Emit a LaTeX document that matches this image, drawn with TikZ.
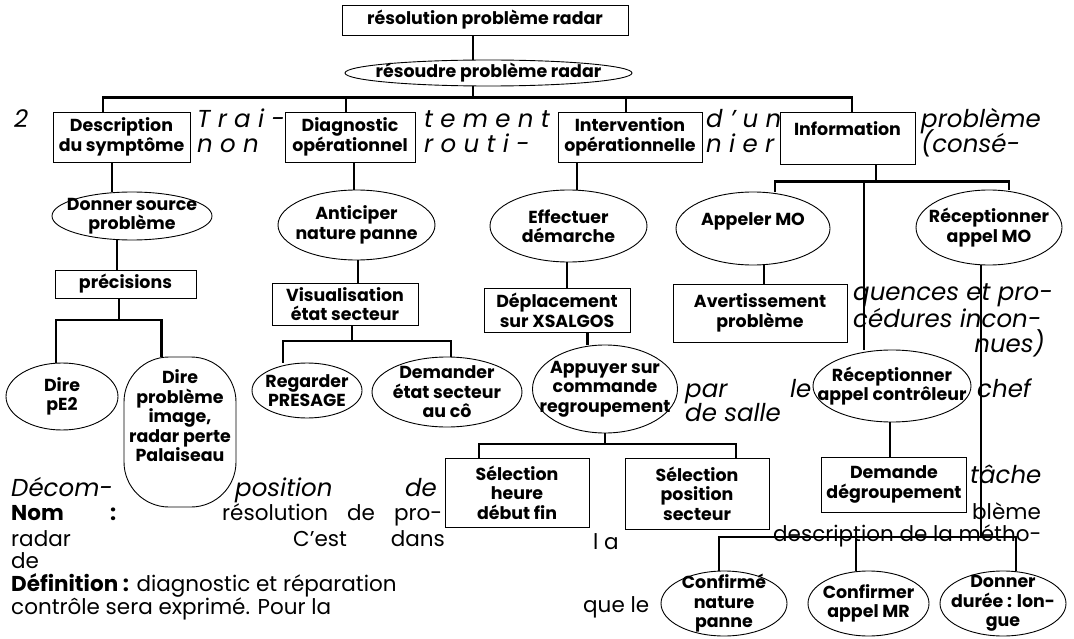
\documentclass[tikz,border=0pt]{standalone}
\usepackage{fontspec}
\setmainfont{Poppins}
\usetikzlibrary{shapes.geometric}

\newcommand\boxtxt{\bfseries\fontsize{17.4}{19.5}\selectfont}
\newcommand\headtxt{\itshape\fontsize{24.5}{28}\selectfont}
\newcommand\bodytxt{\fontsize{21.5}{24}\selectfont}

\tikzset{
	box/.style={draw, line width=0.9pt, rectangle, inner sep=0pt, align=center, font=\boxtxt},
	oval/.style={draw, line width=0.9pt, ellipse, inner sep=0pt, label={[lbl]center:{#1}}},
	lbl/.style={align=center, font=\boxtxt, inner sep=0pt},
	dims/.style 2 args={minimum width=#1, minimum height=#2},
	conn/.style={line width=2.5pt},
	head/.style={anchor=base west, inner sep=0pt, font=\headtxt},
	body/.style={anchor=base west, inner sep=0pt, font=\bodytxt}
}

\begin{document}
\begin{tikzpicture}[x=1pt, y=-1pt]
	\useasboundingbox (0,0) rectangle (1074,639);

	% text of the page behind the tree
	\node[head] (t1) at (14,128) {2};
	\node[head] (t2) at (197,128) {T r a i -};
	\node[head] (t3) at (424,128) {t e m e n t};
	\node[head] (t4) at (706,128) {d ’ u n};
	\node[head] (t5) at (921,128) {problème};
	\node[head] (t6) at (197,153) {n o n};
	\node[head] (t7) at (424,153) {r o u t i -};
	\node[head] (t8) at (706,153) {n i e r};
	\node[head] (t9) at (921,153) {(consé-};
	\node[head] (t10) at (853,301) {quences et pro-};
	\node[head] (t11) at (853,327) {cédures incon-};
	\node[head, anchor=base east] (t12) at (1045,352) {nues)};
	\node[head] (t13) at (685,397) {par};
	\node[head] (t14) at (790,397) {le};
	\node[head] (t15) at (977,397) {chef};
	\node[head] (t16) at (685,421) {de salle};
	\node[head] (t17) at (11,496) {Décom-};
	\node[head] (t18) at (235,496) {position};
	\node[head, anchor=base east] (t19) at (437,496) {de};
	\node[head] (t20) at (970,483) {tâche};
	\node[body] (t21) at (11,520) {\bfseries Nom};
	\node[body] (t22) at (110,520) {\bfseries :};
	\node[body] (t23) at (222,520) {\makebox[220pt][s]{résolution de pro-}};
	\node[body] (t25) at (972,519) {blème};
	\node[body] (t26) at (11,546) {radar};
	\node[body] (t27) at (293,546) {C’est};
	\node[body, anchor=base east] (t28) at (445,546) {dans};
	\node[body] (t29) at (593,549) {l a};
	\node[body] (t30) at (773,541) {description de la métho-};
	\node[body] (t31) at (11,568) {de};
	\node[body] (t32) at (11,591) {\textbf{Définition :} diagnostic et réparation};
	\node[body] (t33) at (11,614) {contrôle sera exprimé. Pour la};
	\node[body] (t34) at (583,612) {que le};

	% tree
	\node[box, dims={286}{30}] (top) at (485,20) {résolution problème radar};
	\node[oval={résoudre problème radar}, dims={287}{26}] (res) at (488.5,73) {};

	\node[box, dims={137}{50}] (desc) at (121.5,137) {Description\\du symptôme};
	\node[box, dims={130}{50}] (diag) at (350,137) {Diagnostic\\opérationnel};
	\node[box, dims={144}{50}] (interv) at (630,137) {Intervention\\opérationnelle};
	\node[box, dims={135}{52}] (info) at (847.5,138) {Information\\~};

	\node[oval={Donner source\\problème}, dims={160}{48}] (src) at (132,216) {};
	\node[box, dims={141}{28}] (prec) at (125.5,284) {précisions};
	\node[oval={Dire\\pE2}, dims={112}{67}] (dire1) at (62,396.5) {};
	\node[draw, line width=0.9pt, rounded corners=45pt, dims={112}{150},
		label={[lbl, anchor=north, yshift=-13pt]north:{Dire\\problème\\image,\\radar perte\\Palaiseau}}] (dire2) at (180,432) {};

	\node[oval={Anticiper\\nature panne}, dims={157}{70}] (ant) at (356.5,225) {};
	\node[box, dims={146}{42}] (visu) at (345,304) {Visualisation\\état secteur};
	\node[oval={Regarder\\PRESAGE}, dims={110}{55}] (reg) at (307,390.5) {};
	\node[oval={Demander\\état secteur\\au cô}, dims={150}{70}] (dem) at (447,392) {};

	\node[oval={Effectuer\\démarche}, dims={157}{72}] (eff) at (568.5,226) {};
	\node[box, dims={146}{44}] (depl) at (557,310.5) {Déplacement\\sur XSALGOS};
	\node[oval={Appuyer sur\\commande\\regroupement}, dims={145}{88}] (app) at (605,389) {};
	\node[box, dims={144}{69}] (sel1) at (517,492.5) {Sélection\\heure\\début fin};
	\node[box, dims={144}{71}] (sel2) at (697,493.5) {Sélection\\position\\secteur};

	\node[oval={Appeler MO\\~}, dims={154}{73}] (appmo) at (753,228.5) {};
	\node[oval={Réceptionner\\appel MO}, dims={146}{75}] (recmo) at (989,227.5) {};
	\node[box, dims={174}{58}] (avert) at (760,313) {Avertissement\\problème};
	\node[oval={Réceptionner\\appel contrôleur}, dims={158}{72}] (reccon) at (892,386) {};
	\node[box, dims={145}{55}] (dmd) at (894,484.5) {Demande\\dégroupement};
	\node[oval={Confirmé\\nature\\panne}, dims={126}{65}] (conf1) at (724,603.5) {};
	\node[oval={Confirmer\\appel MR}, dims={121}{65}] (conf2) at (868.5,603.5) {};
	\node[oval={Donner\\durée : lon-\\gue}, dims={126}{65}] (conf3) at (1003,603.5) {};

	\coordinate (jres) at (103,97.5);
	\coordinate (jprec) at (56,320);
	\coordinate (jvisu) at (283,341);
	\coordinate (japp) at (479,444);
	\coordinate (jinfo) at (775,181.5);
	\coordinate (jconf) at (719,537);

	\draw[conn] ([xshift=-12]top.south) -- ([xshift=-12]top.south |- res.north);
	\draw[conn] ([xshift=-15.5]res.south) |- (jres) -| ([xshift=-18.5]desc.north);
	\draw[conn] (jres) -| ([xshift=-4]diag.north);
	\draw[conn] (jres) -| ([xshift=-4]interv.north);
	\draw[conn] (jres) -| ([xshift=4.5]info.north);

	\draw[conn] ([xshift=-9.5]desc.south) -- ([xshift=-9.5]desc.south |- src.north);
	\draw[conn] ([xshift=-15]src.south) -- ([xshift=-15]src.south |- prec.north);
	\draw[conn] ([xshift=-6.5]prec.south) |- (jprec) -| ([xshift=-6]dire1.north);
	\draw[conn] (jprec) -| ([xshift=-18.5]dire2.north);

	\draw[conn] ([xshift=4]diag.south) -- ([xshift=4]diag.south |- ant.north);
	\draw[conn] ([xshift=1.5]ant.south) -- ([xshift=1.5]ant.south |- visu.north);
	\draw[conn] ([xshift=7]visu.south) |- (jvisu) -| ([xshift=-24]reg.north);
	\draw[conn] (jvisu) -| ([xshift=4]dem.north);

	\draw[conn] ([xshift=-53]interv.south) -- ([xshift=-53]interv.south |- eff.north);
	\draw[conn] ([xshift=-1.5]eff.south) -- ([xshift=-1.5]eff.south |- depl.north);
	\draw[conn] ([xshift=30.5]depl.south) -- ([xshift=30.5]depl.south |- app.north);
	\draw[conn] (app.south) |- (japp) -| ([xshift=-38]sel1.north);
	\draw[conn] (japp) -| ([xshift=39]sel2.north);

	\draw[conn] ([xshift=28.5]info.south) |- (jinfo) -| ([xshift=22]appmo.north);
	\draw[conn] (jinfo) -| ([xshift=20]recmo.north);
	\draw[conn] ([xshift=-28]reccon.north) |- (jinfo);
	\draw[conn] ([xshift=11]appmo.south) -- ([xshift=11]appmo.south |- avert.north);
	\draw[conn] ([xshift=-2]reccon.south) -- ([xshift=-2]reccon.south |- dmd.north);
	\draw[conn] ([xshift=-8]recmo.south) |- (jconf) -| ([xshift=-5]conf1.north);
	\draw[conn] (jconf) -| ([xshift=-12.5]conf2.north);
	\draw[conn] (jconf) -| ([xshift=13]conf3.north);
\end{tikzpicture}
\end{document}
